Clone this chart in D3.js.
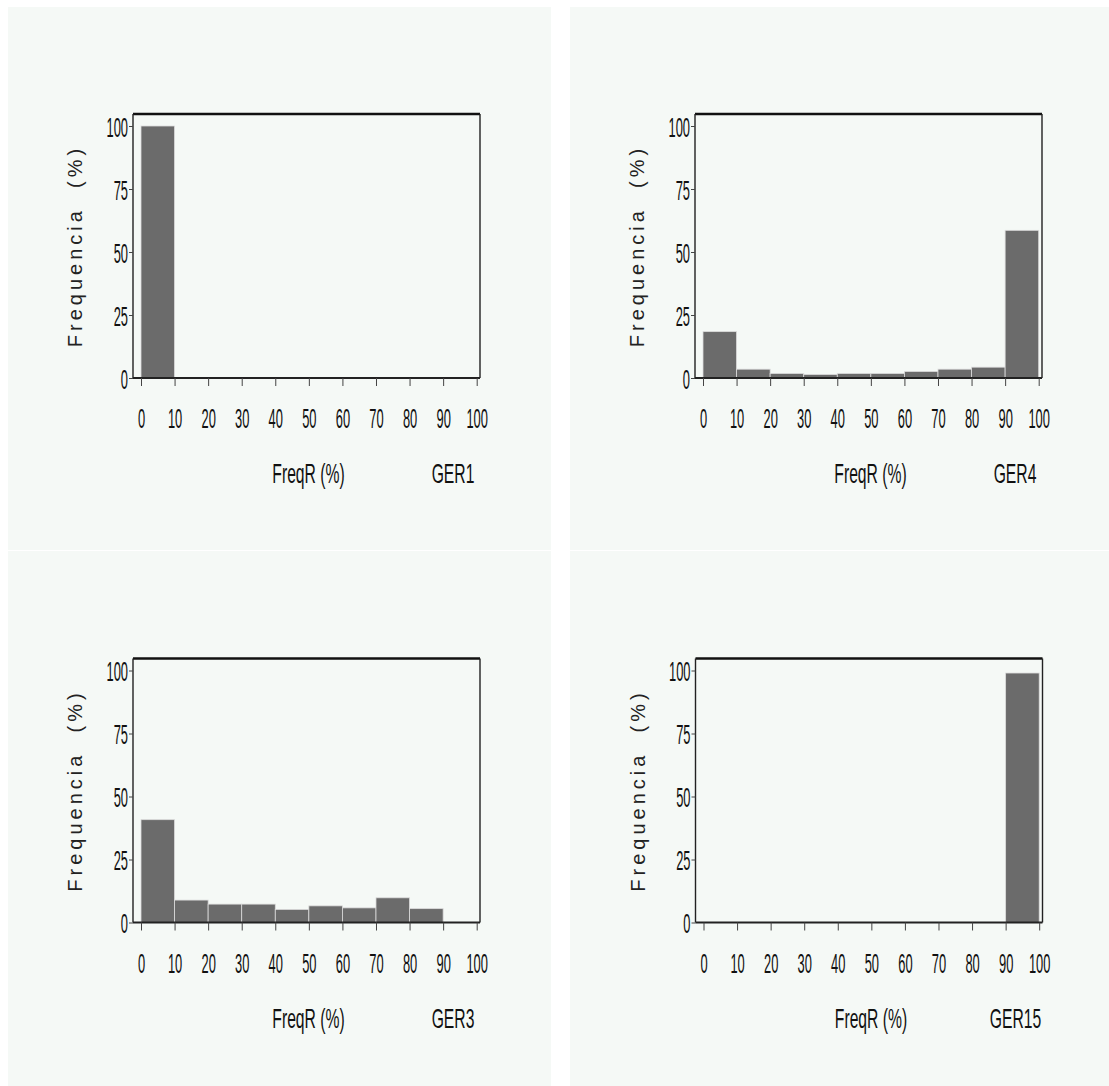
<!DOCTYPE html>
<html>
<head>
<meta charset="utf-8">
<script src="https://cdn.jsdelivr.net/npm/d3@7/dist/d3.min.js"></script>
<style>
  html, body { margin: 0; padding: 0; background: #ffffff; }
  svg { display: block; }
</style>
</head>
<body>
<svg id="chart" width="1109" height="1086"></svg>
<script>
// Histogram bins (lower edge of each 10% class of FreqR)
const binStarts = [0, 10, 20, 30, 40, 50, 60, 70, 80, 90];
const xTickLabels = [0, 10, 20, 30, 40, 50, 60, 70, 80, 90, 100];
const yTickLabels = [0, 25, 50, 75, 100];

// Frequency (%) per bin for each genotype
const ger1  = [100, 0, 0, 0, 0, 0, 0, 0, 0, 0];
const ger4  = [18.4, 3.5, 1.8, 1.4, 1.8, 1.8, 2.6, 3.5, 4.3, 58.6];
const ger3  = [40.8, 8.9, 7.3, 7.3, 5.2, 6.6, 5.8, 9.8, 5.5, 0];
const ger15 = [0, 0, 0, 0, 0, 0, 0, 0, 0, 99];

const panelNames = ["GER1", "GER4", "GER3", "GER15"];
const panelSeries = [ger1, ger4, ger3, ger15];

// Panel layout: background box and plot frame origin
const panels = [
  { bg: [8, 7, 543, 543],    frame: [133, 114] },
  { bg: [570, 7, 539, 543],  frame: [695, 114] },
  { bg: [8, 551, 543, 535],  frame: [133, 658.5] },
  { bg: [570, 551, 539, 535], frame: [695.5, 658.5] }
];

const frameW = 347, frameH = 264;
const digitFont = "'Liberation Sans', Arial, sans-serif";

const svg = d3.select("#chart");

// x: FreqR (%) ; frame starts a little left of 0
const x = d3.scaleLinear().domain([0, 100]).range([8, 343.7]);
// y: frequency (%) ; 100 sits ~14px below the frame top
const y = d3.scaleLinear().domain([0, 100]).range([frameH, frameH - 252]);

panels.forEach((p, i) => {
  const data = panelSeries[i].map((v, k) => ({ x0: binStarts[k], x1: binStarts[k] + 10, v }));

  svg.append("rect")
    .attr("x", p.bg[0]).attr("y", p.bg[1])
    .attr("width", p.bg[2]).attr("height", p.bg[3])
    .attr("fill", "#f5f9f6");

  const g = svg.append("g").attr("transform", `translate(${p.frame[0]},${p.frame[1]})`);

  // bars
  g.selectAll("rect.bar")
    .data(data.filter(d => d.v > 0))
    .join("rect")
    .attr("class", "bar")
    .attr("x", d => x(d.x0))
    .attr("width", d => x(d.x1) - x(d.x0))
    .attr("y", d => y(d.v))
    .attr("height", d => y(0) - y(d.v))
    .attr("fill", "#6b6b6b")
    .attr("stroke", "#dcdcdc")
    .attr("stroke-width", 0.8);

  // frame: thick top, thin sides
  g.append("line").attr("x1", 0).attr("x2", frameW).attr("y1", 0).attr("y2", 0)
    .attr("stroke", "#111").attr("stroke-width", 2.6);
  g.append("line").attr("x1", 0).attr("x2", 0).attr("y1", 0).attr("y2", frameH)
    .attr("stroke", "#222").attr("stroke-width", 1.4);
  g.append("line").attr("x1", frameW).attr("x2", frameW).attr("y1", 0).attr("y2", frameH)
    .attr("stroke", "#222").attr("stroke-width", 1.4);
  g.append("line").attr("x1", 0).attr("x2", frameW).attr("y1", frameH).attr("y2", frameH)
    .attr("stroke", "#222").attr("stroke-width", 2);

  // x axis
  const xAxis = g.append("g")
    .attr("transform", `translate(0,${frameH})`)
    .call(d3.axisBottom(x).tickValues(xTickLabels).tickSize(8).tickPadding(0).tickFormat(d3.format("d")));
  xAxis.select(".domain").remove();
  xAxis.selectAll(".tick line").attr("stroke", "#444").attr("stroke-width", 1);
  xAxis.selectAll(".tick text")
    .attr("y", 0).attr("dy", 0)
    .attr("transform", "translate(0,50) scale(0.46,1)")
    .attr("font-family", digitFont).attr("font-size", 28).attr("fill", "#111");

  // y axis
  const yAxis = g.append("g")
    .call(d3.axisLeft(y).tickValues(yTickLabels).tickSize(4).tickPadding(0).tickFormat(d3.format("d")));
  yAxis.select(".domain").remove();
  yAxis.selectAll(".tick line").attr("stroke", "#444").attr("stroke-width", 1);
  yAxis.selectAll(".tick text")
    .attr("x", 0).attr("dy", 0)
    .attr("transform", "translate(-5,10) scale(0.46,1)")
    .attr("font-family", digitFont).attr("font-size", 28).attr("fill", "#111");

  // axis titles
  g.append("text")
    .attr("transform", `translate(${frameW / 2 + 2},${frameH + 105}) scale(0.56,1)`)
    .attr("text-anchor", "middle")
    .attr("font-family", digitFont).attr("font-size", 28).attr("fill", "#111")
    .text("FreqR (%)");
  g.append("text")
    .attr("transform", `translate(${frameW - 27},${frameH + 105}) scale(0.56,1)`)
    .attr("text-anchor", "middle")
    .attr("font-family", digitFont).attr("font-size", 28).attr("fill", "#111")
    .text(panelNames[i]);

  g.append("text")
    .attr("transform", `translate(-51,${frameH / 2}) rotate(-90)`)
    .attr("text-anchor", "middle")
    .attr("font-family", "'Liberation Sans', Arial, sans-serif")
    .attr("font-size", 20).attr("letter-spacing", 4).attr("fill", "#222")
    .attr("xml:space", "preserve")
    .style("white-space", "pre")
    .text("Frequencia  (%)");
});
</script>
</body>
</html>
